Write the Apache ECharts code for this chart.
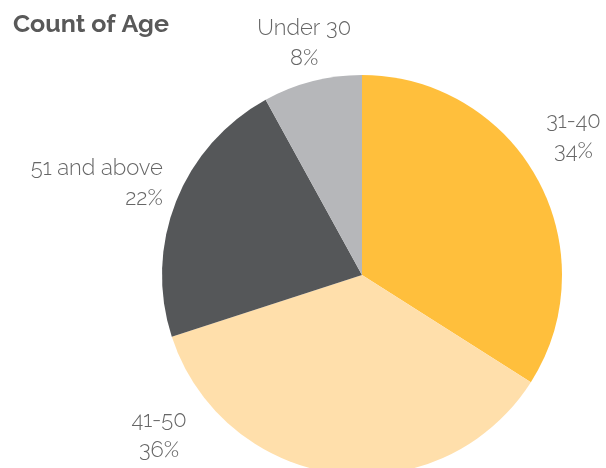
<!DOCTYPE html>
<html>
<head>
<meta charset="utf-8">
<script src="https://cdn.jsdelivr.net/npm/echarts@6/dist/echarts.min.js"></script>
<style>
  html, body { margin: 0; padding: 0; background: #ffffff; }
  #chart { width: 606px; height: 468px; }
</style>
</head>
<body>
<div id="chart"></div>
<script>
// Age brackets, share of respondents (percent)
const categories = ['31-40', '41-50', '51 and above', 'Under 30'];
const shares = [34, 36, 22, 8];
const colors = ['#FFBF3C', '#FFDFAB', '#555759', '#B6B7BA'];

// Pie geometry
const CX = 362, CY = 275, R = 200;

// Label anchors: distance from the pie centre and a turn (degrees) away from
// each slice's middle direction, plus text alignment.
const labelPlacement = [
  { dist: 253, turn: -4.5, align: 'center' },
  { dist: 259, turn: 44.4, align: 'center' },
  { dist: 219, turn: 3.0,  align: 'right' },
  { dist: 239, turn: 0.4,  align: 'center' }
];

// Middle direction of each slice, measured clockwise from 12 o'clock
const total = shares.reduce((a, b) => a + b, 0);
const midAngles = [];
let acc = 0;
shares.forEach(v => {
  midAngles.push((acc + v / 2) / total * 360);
  acc += v;
});

const chart = echarts.init(document.getElementById('chart'), null, { renderer: 'canvas' });

const labelFont = 'Raleway, Lato, "Open Sans", sans-serif';

chart.setOption({
  animation: false,
  title: {
    text: 'Count of Age',
    left: 13,
    top: 12,
    padding: 0,
    textStyle: {
      fontFamily: labelFont,
      fontSize: 25,
      fontWeight: 'bold',
      color: '#595959'
    }
  },
  series: [{
    type: 'pie',
    center: [CX, CY],
    radius: R,
    startAngle: 90,
    clockwise: true,
    data: categories.map((name, i) => ({
      name,
      value: shares[i],
      itemStyle: { color: colors[i] }
    })),
    label: {
      show: true,
      position: 'outside',
      alignTo: 'none',
      overflow: 'none',
      formatter: p => p.name + '\n' + Math.round(p.percent) + '%',
      fontFamily: labelFont,
      fontSize: 22,
      fontWeight: 300,
      lineHeight: 30,
      color: '#666666',
      align: 'center'
    },
    labelLine: { show: false, length: 20, length2: 0 },
    labelLayout: params => {
      const i = params.dataIndex;
      const pl = labelPlacement[i];
      const a = (midAngles[i] + pl.turn) * Math.PI / 180;
      return {
        x: CX + pl.dist * Math.sin(a),
        y: CY - pl.dist * Math.cos(a),
        align: pl.align,
        verticalAlign: 'middle',
        width: 200
      };
    },
    emphasis: { disabled: true }
  }]
});
</script>
</body>
</html>
